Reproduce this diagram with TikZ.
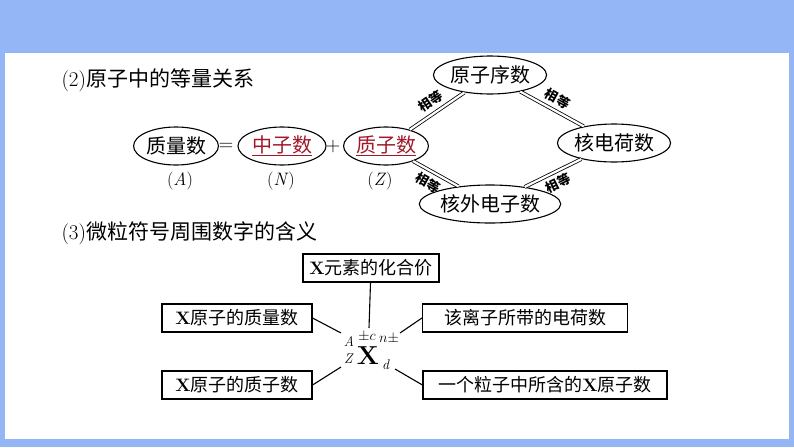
\documentclass[tikz,border=0pt]{standalone}
\usepackage{fontspec}
\newfontfamily\cjk{Noto Sans CJK SC}
\usetikzlibrary{shapes.geometric}
\definecolor{frame}{HTML}{94B6F7}
\definecolor{dred}{HTML}{A0182A}
\begin{document}
\begin{tikzpicture}[x=1pt,y=-1pt,
  el/.style={draw,ellipse,line width=1.1pt,inner sep=0pt,font=\cjk\fontsize{20}{20}\selectfont},
  bx/.style={draw,line width=1.1pt,minimum height=28pt,inner xsep=6pt,font=\cjk\fontsize{18}{18}\selectfont},
  dbl/.style={double,double distance=2.2pt,line width=0.8pt},
  lab/.style={font=\cjk\bfseries\fontsize{13}{13}\selectfont,inner sep=1pt},
  sym/.style={font=\fontsize{14}{14}\selectfont,inner sep=0pt},
  ln/.style={line width=1.1pt}]
\fill[frame] (0,0) rectangle (794,447);
\fill[white] (5,53) rectangle (789,439);
\useasboundingbox (0,0) rectangle (794,447);
\node[anchor=west,font=\fontsize{21}{21}\selectfont] (t2) at (58,80) {(2)\cjk 原子中的等量关系};
\node[el,minimum width=82pt,minimum height=38pt] (A) at (176,146) {质量数};
\node[font=\fontsize{20}{20}\selectfont] (eq) at (226,147) {=};
\node[el,minimum width=88pt,minimum height=38pt,text=dred] (N) at (282,146) {\underline{中子数}};
\node[font=\fontsize{20}{20}\selectfont] (pl) at (333,147) {+};
\node[el,minimum width=82pt,minimum height=38pt,text=dred] (Z) at (386,146) {\underline{质子数}};
\node[font=\fontsize{18}{18}\selectfont] (la) at (180,181) {(\textit{A})};
\node[font=\fontsize{18}{18}\selectfont] (lN) at (281,181) {(\textit{N})};
\node[font=\fontsize{18}{18}\selectfont] (lZ) at (380,181) {(\textit{Z})};
\node[el,minimum width=108pt,minimum height=38pt] (Y) at (490,75) {原子序数};
\node[el,minimum width=108pt,minimum height=38pt] (H) at (614,143) {核电荷数};
\node[el,minimum width=122pt,minimum height=38pt] (W) at (490,204) {核外电子数};
\draw[dbl] (Z) -- (Y) node[midway,lab,sloped,above=4pt] {相等};
\draw[dbl] (Y) -- (H) node[midway,lab,sloped,above=4pt] {相等};
\draw[dbl] (H) -- (W) node[midway,lab,sloped,below=4pt] {相等};
\draw[dbl] (Z) -- (W) node[pos=0.45,lab,sloped,below=4pt] {相等};
\node[anchor=west,font=\fontsize{21}{21}\selectfont] (t3) at (58,233) {(3)\cjk 微粒符号周围数字的含义};
\node[bx,minimum width=136pt] (b1) at (371,268) {\textbf{\rmfamily X}元素的化合价};
\node[bx,minimum width=150pt] (b2) at (237,318) {\textbf{\rmfamily X}原子的质量数};
\node[bx,minimum width=205pt] (b3) at (525,318) {该离子所带的电荷数};
\node[bx,minimum width=150pt] (b4) at (237,385) {\textbf{\rmfamily X}原子的质子数};
\node[bx,minimum width=244pt] (b5) at (545,385) {一个粒子中所含的\textbf{\rmfamily X}原子数};
\node[font=\fontsize{26}{26}\selectfont\bfseries,inner sep=0pt] (X) at (368,356) {X};
\node[sym] (sA) at (349,341) {\textit{A}};
\node[sym] (sZ) at (349,359) {\textit{Z}};
\node[sym] (sc) at (367,337) {$\pm c$};
\node[sym] (sn) at (389,339) {$n\pm$};
\node[sym] (sd) at (386,365) {\textit{d}};
\coordinate (c1) at (369,328);
\coordinate (cA) at (341,333);
\coordinate (cn) at (400,333);
\coordinate (cZ) at (341,367);
\coordinate (cd) at (395,369);
\draw[ln] (b1) -- (c1);
\draw[ln] (b2.east) -- (cA);
\draw[ln] (b3.west) -- (cn);
\draw[ln] (b4.east) -- (cZ);
\draw[ln] (b5.west) -- (cd);
\end{tikzpicture}
\end{document}
